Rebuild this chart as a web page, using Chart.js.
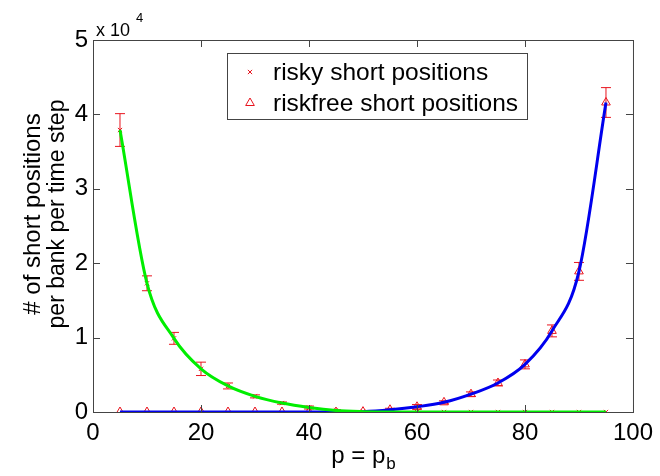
<!DOCTYPE html>
<html>
<head>
<meta charset="utf-8">
<script src="https://cdn.jsdelivr.net/npm/chart.js@4"></script>
<style>
  html, body { margin: 0; padding: 0; background: #fff; }
  #wrap { width: 660px; height: 476px; }
</style>
</head>
<body>
<div id="wrap"><canvas id="chart" width="660" height="476"></canvas></div>
<script>
// p values (x axis)
const pValues = [5, 10, 15, 20, 25, 30, 35, 40, 45, 50, 55, 60, 65, 70, 75, 80, 85, 90, 95];

// short positions per bank per time step, in units of 10^4
const riskyMean = [3.79, 1.73, 0.99, 0.58, 0.35, 0.21, 0.12, 0.06, 0.02, 0.005, 0, 0, 0, 0, 0, 0, 0, 0, 0];
const riskyErr  = [0.22, 0.10, 0.08, 0.09, 0.04, 0.02, 0.015, 0.02, 0.01, 0, 0, 0, 0, 0, 0, 0, 0, 0, 0];

const riskfreeMean = [0, 0, 0, 0, 0, 0, 0, 0, 0, 0.005, 0.03, 0.07, 0.13, 0.24, 0.39, 0.64, 1.09, 1.89, 4.16];
const riskfreeErr  = [0, 0, 0, 0, 0, 0, 0, 0, 0, 0, 0.02, 0.03, 0.02, 0.03, 0.04, 0.06, 0.08, 0.12, 0.2];

const xTicks = [0, 20, 40, 60, 80, 100];
const yTicks = [0, 1, 2, 3, 4, 5];

const legendLabels = ['risky short positions', 'riskfree short positions'];

const FONT = '"Liberation Sans", Arial, Helvetica, sans-serif';
const RED = '#e8141e';
const AXIS = '#444';

const pts = arr => arr.map((v, i) => ({ x: pValues[i], y: v }));

// error bars with caps, drawn under the lines
const errorBars = {
  id: 'errorBars',
  beforeDatasetsDraw(chart) {
    const { ctx, scales: { x, y } } = chart;
    const series = [[riskyMean, riskyErr], [riskfreeMean, riskfreeErr]];
    ctx.save();
    ctx.strokeStyle = RED;
    ctx.lineWidth = 1;
    series.forEach(([mean, err]) => {
      mean.forEach((m, i) => {
        if (!err[i]) return;
        const px = x.getPixelForValue(pValues[i]);
        const top = y.getPixelForValue(m + err[i]);
        const bot = y.getPixelForValue(m - err[i]);
        ctx.beginPath();
        ctx.moveTo(px, top); ctx.lineTo(px, bot);
        ctx.moveTo(px - 5, top); ctx.lineTo(px + 5, top);
        ctx.moveTo(px - 5, bot); ctx.lineTo(px + 5, bot);
        ctx.stroke();
      });
    });
    ctx.restore();
  }
};

// box, inward ticks, axis titles, exponent and legend
const frame = {
  id: 'frame',
  afterDraw(chart) {
    const { ctx, chartArea: a, scales: { x, y } } = chart;
    ctx.save();
    ctx.strokeStyle = AXIS;
    ctx.lineWidth = 1;
    ctx.strokeRect(a.left + 0.5, a.top + 0.5, a.right - a.left, a.bottom - a.top);

    const tl = 7;
    ctx.beginPath();
    xTicks.forEach(v => {
      const px = Math.round(x.getPixelForValue(v)) + 0.5;
      ctx.moveTo(px, a.bottom); ctx.lineTo(px, a.bottom - tl);
      ctx.moveTo(px, a.top); ctx.lineTo(px, a.top + tl);
    });
    yTicks.forEach(v => {
      const py = Math.round(y.getPixelForValue(v)) + 0.5;
      ctx.moveTo(a.left, py); ctx.lineTo(a.left + tl, py);
      ctx.moveTo(a.right, py); ctx.lineTo(a.right - tl, py);
    });
    ctx.stroke();

    ctx.fillStyle = '#000';

    // exponent above the y axis
    ctx.textBaseline = 'alphabetic';
    ctx.textAlign = 'left';
    ctx.font = `18px ${FONT}`;
    ctx.fillText('x 10', 96, 36);
    ctx.font = `13px ${FONT}`;
    ctx.fillText('4', 136, 22);

    // x title with subscript
    ctx.font = `24px ${FONT}`;
    const main = 'p = p';
    const w = ctx.measureText(main).width;
    ctx.font = `17px ${FONT}`;
    const ws = ctx.measureText('b').width;
    const x0 = (a.left + a.right) / 2 - (w + ws) / 2;
    ctx.font = `24px ${FONT}`;
    ctx.fillText(main, x0, 463);
    ctx.font = `17px ${FONT}`;
    ctx.fillText('b', x0 + w + 1, 469);

    // y title, two lines
    ctx.save();
    ctx.translate(0, 214);
    ctx.rotate(-Math.PI / 2);
    ctx.textAlign = 'center';
    ctx.textBaseline = 'middle';
    ctx.font = `24px ${FONT}`;
    ctx.fillText('# of short positions', 0, 33);
    ctx.font = `23px ${FONT}`;
    ctx.fillText('per bank per time step', 0, 58);
    ctx.restore();

    // legend
    const lx = 227, ly = 53, lw = 300, lh = 66;
    ctx.fillStyle = '#fff';
    ctx.fillRect(lx, ly, lw, lh);
    ctx.strokeStyle = AXIS;
    ctx.strokeRect(lx + 0.5, ly + 0.5, lw, lh);
    const styles = ['crossRot', 'triangle'];
    const radii = [3, 5];
    legendLabels.forEach((label, i) => {
      const cy = ly + 19 + i * 31;
      ctx.strokeStyle = RED;
      ctx.fillStyle = 'rgba(0,0,0,0)';
      ctx.lineWidth = 1;
      Chart.helpers.drawPoint(ctx, { pointStyle: styles[i], radius: radii[i], borderWidth: 1 }, 250, cy);
      ctx.fillStyle = '#000';
      ctx.font = `24.5px ${FONT}`;
      ctx.textAlign = 'left';
      ctx.textBaseline = 'middle';
      ctx.fillText(label, 273, cy + 1);
    });
    ctx.restore();
  }
};

new Chart(document.getElementById('chart'), {
  type: 'line',
  data: {
    datasets: [
      {
        label: 'risky fit',
        data: pts(riskyMean),
        borderColor: '#00ee00',
        borderWidth: 3,
        pointRadius: 0,
        cubicInterpolationMode: 'monotone'
      },
      {
        label: 'riskfree fit',
        data: pts(riskfreeMean),
        borderColor: '#0000ee',
        borderWidth: 3,
        pointRadius: 0,
        cubicInterpolationMode: 'monotone'
      },
      {
        label: legendLabels[0],
        data: pts(riskyMean),
        showLine: false,
        pointStyle: 'crossRot',
        pointRadius: 3,
        pointBorderWidth: 1,
        pointBorderColor: RED,
        pointBackgroundColor: RED
      },
      {
        label: legendLabels[1],
        data: pts(riskfreeMean),
        showLine: false,
        pointStyle: 'triangle',
        pointRadius: 5,
        pointBorderWidth: 1,
        pointBorderColor: RED,
        pointBackgroundColor: 'rgba(255,255,255,0)'
      }
    ]
  },
  options: {
    responsive: false,
    animation: false,
    events: [],
    layout: { padding: { top: 40, right: 23, left: 0, bottom: 0 } },
    plugins: { legend: { display: false }, tooltip: { enabled: false } },
    scales: {
      x: {
        type: 'linear',
        min: 0,
        max: 100,
        afterFit: s => { s.height = 64; },
        afterBuildTicks: s => { s.ticks = xTicks.map(v => ({ value: v })); },
        grid: { display: false, drawTicks: false },
        border: { display: false },
        ticks: { color: '#000', padding: 7, font: { family: FONT, size: 24 } }
      },
      y: {
        type: 'linear',
        min: 0,
        max: 5,
        afterFit: s => { s.width = 93; },
        afterBuildTicks: s => { s.ticks = yTicks.map(v => ({ value: v })); },
        grid: { display: false, drawTicks: false },
        border: { display: false },
        ticks: { color: '#000', padding: 5, font: { family: FONT, size: 24 } }
      }
    }
  },
  plugins: [errorBars, frame]
});
</script>
</body>
</html>
